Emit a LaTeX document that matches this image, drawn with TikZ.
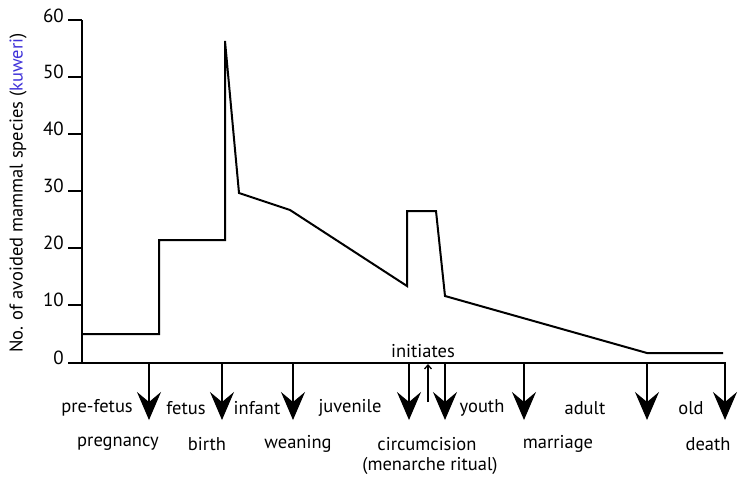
\documentclass[tikz,border=0pt]{standalone}
\usepackage{fontspec}
\setmainfont{PT Sans}
\usepackage{tikz}
\usetikzlibrary{arrows.meta}
\definecolor{kblue}{rgb}{0.25,0.2,0.85}
\tikzstyle{none}=[inner sep=0pt]
\tikzstyle{axis}=[-,line width=1.4]
\tikzstyle{curve}=[-,line width=2.0,line join=miter]
\tikzstyle{tick}=[-,line width=1.2]
\tikzstyle{stagearrow}=[-{Stealth[length=28pt,width=24pt,inset=10pt]},line width=1.4]
\tikzstyle{smallarrow}=[-{Straight Barb[length=4pt,width=7pt]},line width=1.3]
\tikzstyle{stage}=[inner sep=0pt,font=\fontsize{18.5}{22}\selectfont]
\tikzstyle{ticklabel}=[inner sep=0pt,anchor=east,font=\fontsize{19}{22}\selectfont]
\pgfdeclarelayer{edgelayer}
\pgfdeclarelayer{nodelayer}
\pgfsetlayers{edgelayer,nodelayer,main}
\begin{document}
\begin{tikzpicture}[x=1pt,y=-1pt]
	\useasboundingbox (0,0) rectangle (747,480);
	\begin{pgfonlayer}{nodelayer}
		% axes
		\node [style=none] (O) at (82, 363) {};
		\node [style=none] (Ytop) at (82, 20) {};
		\node [style=none] (Xend) at (726, 363) {};

		% y ticks
		\node [style=none] (y0) at (68, 363) {};
		\node [style=none] (y10) at (68, 305) {};
		\node [style=none] (y20) at (68, 248) {};
		\node [style=none] (y30) at (68, 191) {};
		\node [style=none] (y40) at (68, 134) {};
		\node [style=none] (y50) at (68, 77) {};
		\node [style=none] (y60) at (68, 20) {};
		\node [style=none] (a0) at (82, 363) {};
		\node [style=none] (a10) at (82, 305) {};
		\node [style=none] (a20) at (82, 248) {};
		\node [style=none] (a30) at (82, 191) {};
		\node [style=none] (a40) at (82, 134) {};
		\node [style=none] (a50) at (82, 77) {};
		\node [style=none] (a60) at (82, 20) {};
		\node [style=ticklabel] at (64, 358) {0};
		\node [style=ticklabel] at (64, 300) {10};
		\node [style=ticklabel] at (64, 243) {20};
		\node [style=ticklabel] at (64, 186) {30};
		\node [style=ticklabel] at (64, 129) {40};
		\node [style=ticklabel] at (64, 72) {50};
		\node [style=ticklabel] at (64, 16) {60};

		\node [style=stage,rotate=90] (ylab) at (18, 193) {No. of avoided mammal species (\textcolor{kblue}{kuweri})};

		% curve
		\node [style=none] (c1) at (82, 334) {};
		\node [style=none] (c2) at (159, 334) {};
		\node [style=none] (c3) at (159, 240) {};
		\node [style=none] (c4) at (225, 240) {};
		\node [style=none] (c5) at (225, 41) {};
		\node [style=none] (c6) at (239, 193) {};
		\node [style=none] (c7) at (290, 210) {};
		\node [style=none] (c8) at (407, 286) {};
		\node [style=none] (c9) at (407, 211) {};
		\node [style=none] (c10) at (436, 211) {};
		\node [style=none] (c11) at (445, 296) {};
		\node [style=none] (c12) at (647, 353) {};
		\node [style=none] (c13) at (723, 353) {};

		% stage transitions
		\node [style=none] (t1) at (149, 363) {};
		\node [style=none] (e1) at (149, 420) {};
		\node [style=none] (t2) at (222, 363) {};
		\node [style=none] (e2) at (222, 420) {};
		\node [style=none] (t3) at (293, 363) {};
		\node [style=none] (e3) at (293, 420) {};
		\node [style=none] (t4) at (409, 363) {};
		\node [style=none] (e4) at (409, 420) {};
		\node [style=none] (t5) at (445, 363) {};
		\node [style=none] (e5) at (445, 420) {};
		\node [style=none] (t6) at (524, 363) {};
		\node [style=none] (e6) at (524, 420) {};
		\node [style=none] (t7) at (647, 363) {};
		\node [style=none] (e7) at (647, 420) {};
		\node [style=none] (t8) at (725, 363) {};
		\node [style=none] (e8) at (725, 420) {};

		\node [style=none] (i1) at (428, 402) {};
		\node [style=none] (i2) at (428, 364) {};
		\node [style=stage] at (423, 351) {initiates};

		\node [style=stage] at (97, 408) {pre-fetus};
		\node [style=stage] at (186, 408) {fetus};
		\node [style=stage] at (257, 408) {infant};
		\node [style=stage] at (350, 408) {juvenile};
		\node [style=stage] at (482, 408) {youth};
		\node [style=stage] at (585, 408) {adult};
		\node [style=stage] at (691, 408) {old};

		\node [style=stage] at (118, 444) {pregnancy};
		\node [style=stage] at (207, 444) {birth};
		\node [style=stage] at (298, 444) {weaning};
		\node [style=stage] at (427, 444) {circumcision};
		\node [style=stage] at (430, 466) {(menarche ritual)};
		\node [style=stage] at (558, 444) {marriage};
		\node [style=stage] at (708, 444) {death};
	\end{pgfonlayer}
	\begin{pgfonlayer}{edgelayer}
		\draw [style=axis] (Ytop.center) to (O.center) to (Xend.center);
		\draw [style=tick] (y0.center) to (a0.center);
		\draw [style=tick] (y10.center) to (a10.center);
		\draw [style=tick] (y20.center) to (a20.center);
		\draw [style=tick] (y30.center) to (a30.center);
		\draw [style=tick] (y40.center) to (a40.center);
		\draw [style=tick] (y50.center) to (a50.center);
		\draw [style=tick] (y60.center) to (a60.center);
		\draw [style=curve] (c1.center) -- (c2.center) -- (c3.center) -- (c4.center) -- (c5.center) -- (c6.center) -- (c7.center) -- (c8.center) -- (c9.center) -- (c10.center) -- (c11.center) -- (c12.center) -- (c13.center);
		\draw [style=stagearrow] (t1.center) to (e1.center);
		\draw [style=stagearrow] (t2.center) to (e2.center);
		\draw [style=stagearrow] (t3.center) to (e3.center);
		\draw [style=stagearrow] (t4.center) to (e4.center);
		\draw [style=stagearrow] (t5.center) to (e5.center);
		\draw [style=stagearrow] (t6.center) to (e6.center);
		\draw [style=stagearrow] (t7.center) to (e7.center);
		\draw [style=stagearrow] (t8.center) to (e8.center);
		\draw [style=smallarrow] (i1.center) to (i2.center);
	\end{pgfonlayer}
\end{tikzpicture}
\end{document}
